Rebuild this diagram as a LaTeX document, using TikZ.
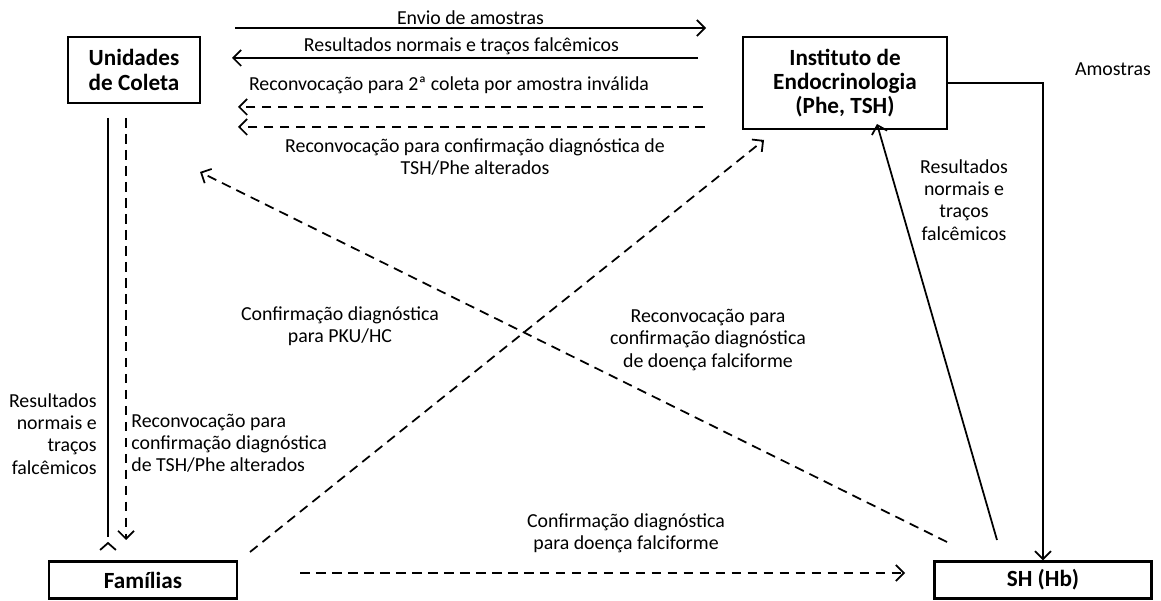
\documentclass[tikz,border=0pt]{standalone}
\usepackage{fontspec}
\setmainfont{Carlito}
\usepackage{tikz}
\usetikzlibrary{shapes.geometric, arrows.meta}
\tikzstyle{entity} = [rectangle, line width=1.4pt, draw=black, fill=white, text centered, align=center, font=\fontsize{13.2}{13.8}\selectfont\bfseries]
\tikzstyle{arrow} = [line width=1pt,->,>={Straight Barb[length=4.5pt,width=9pt]}]
\tikzstyle{darrow} = [arrow, dash pattern=on 5.5pt off 3.6pt]
\tikzstyle{lbl} = [align=center, inner sep=0pt]

\begin{document}
\begin{tikzpicture}[x=0.02cm, y=-0.02cm, font=\fontsize{11.3}{12.6}\selectfont]
		\useasboundingbox (0,0) rectangle (1161,601);
		
		\node (unid) [entity, minimum width=2.64cm, minimum height=1.32cm] at (134,70) {Unidades\\de Coleta};
		\node (inst) [entity, minimum width=4.08cm, minimum height=1.84cm] at (845,83) {Instituto de\\Endocrinologia\\(Phe, TSH)};
		\node (fam) [entity, minimum width=3.76cm, minimum height=0.74cm] at (143,580) {Famílias};
		\node (sh) [entity, minimum width=4.34cm, minimum height=0.74cm] at (1043,580) {SH (Hb)};
		
		% pontos livres das setas horizontais
		\coordinate (env1) at (235,28);
		\coordinate (env2) at (706,28);
		\coordinate (res1) at (698,58);
		\coordinate (res2) at (232,58);
		\coordinate (rec1) at (703,107);
		\coordinate (rec2) at (238,107);
		\coordinate (con1) at (705,127);
		\coordinate (con2) at (238,127);
		
		\draw [arrow] (env1) -- node [lbl, above=1.5pt] {Envio de amostras} (env2);
		\draw [arrow] (res1) -- node [lbl, above=1.5pt, xshift=-2pt] {Resultados normais e traços falcêmicos} (res2);
		\draw [darrow] (rec1) -- (rec2);
		\node (reclbl) [lbl] at (449,85) {Reconvocação para 2ª coleta por amostra inválida};
		\draw [darrow] (con1) -- (con2);
		\node (conlbl) [lbl] at (475,157) {Reconvocação para confirmação diagnóstica de\\TSH/Phe alterados};
		
		% Instituto <-> SH
		\coordinate (shup) at (997,540);
		\coordinate (instin) at (877,124);
		\draw [arrow] (inst.east) -| (sh.north);
		\node (amlbl) [lbl] at (1113,69) {Amostras};
		\draw [arrow] (shup) -- (instin);
		\node (shres) [lbl] at (964,200) {Resultados\\normais e\\traços\\falcêmicos};
		
		% Unidades -> Familias
		\coordinate (u1) at (108,118);
		\coordinate (f1) at (108,537);
		\coordinate (u2) at (126,118);
		\coordinate (f2) at (126,540);
		\draw [line width=1pt] (u1) -- (f1);
		\draw [line width=1pt] ([xshift=-4.5pt]108,550) -- (108,543) -- ([xshift=4.5pt]108,550);
		\draw [darrow] (u2) -- (f2);
		\node (ures) [lbl, anchor=east, align=right] at (97,434) {Resultados\\normais e\\traços\\falcêmicos};
		\node (ucon) [lbl, anchor=west, align=left] at (131,443) {Reconvocação para\\confirmação diagnóstica\\de TSH/Phe alterados};
		
		% diagonais
		\coordinate (famout) at (250,552);
		\coordinate (instlow) at (764,140);
		\coordinate (shout) at (947,542);
		\coordinate (unidlow) at (200,172);
		\draw [darrow] (famout) -- (instlow);
		\draw [darrow] (shout) -- (unidlow);
		\node (pkulbl) [lbl] at (340,326) {Confirmação diagnóstica\\para PKU/HC};
		\node (dflbl) [lbl] at (708,340) {Reconvocação para\\confirmação diagnóstica\\de doença falciforme};
		
		% Familias -> SH
		\coordinate (fam2) at (300,573);
		\coordinate (sh2) at (905,573);
		\draw [darrow] (fam2) -- (sh2);
		\node (fslbl) [lbl] at (626,533) {Confirmação diagnóstica\\para doença falciforme};
		
\end{tikzpicture}
\end{document}
